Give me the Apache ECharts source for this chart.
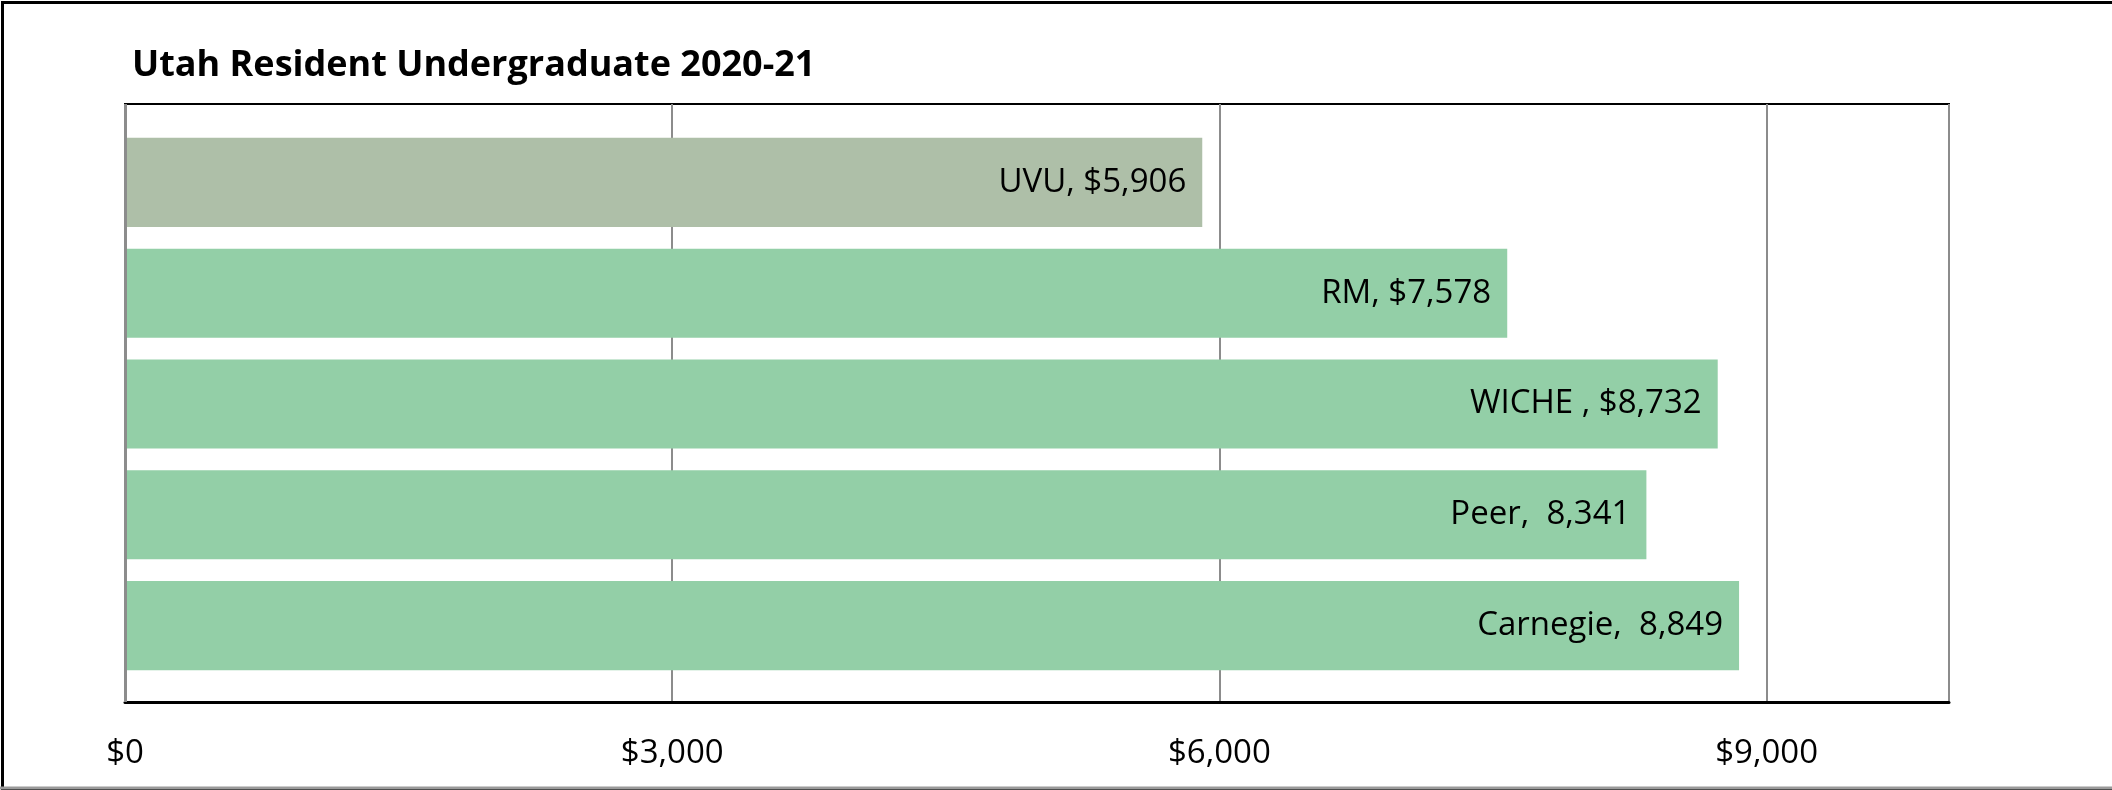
<!DOCTYPE html>
<html>
<head>
<meta charset="utf-8">
<script src="https://cdn.jsdelivr.net/npm/echarts@6/dist/echarts.min.js"></script>
<style>
  html, body { margin: 0; padding: 0; background: #fff; }
  #chart { width: 2112px; height: 790px; }
</style>
</head>
<body>
<div id="chart"></div>
<script>
// chart data
const categories = ["UVU", "RM", "WICHE", "Peer", "Carnegie"];
const values = [5906, 7578, 8732, 8341, 8849];
const barLabels = ["UVU, $5,906", "RM, $7,578", "WICHE , $8,732", "Peer,  8,341", "Carnegie,  8,849"];
const barColors = ["#AEBFA8", "#93CFA7", "#93CFA7", "#93CFA7", "#93CFA7"];
const xTicks = [0, 3000, 6000, 9000];

const fontFamily = "'Open Sans', Lato, sans-serif";

const chart = echarts.init(document.getElementById("chart"));

const option = {
  backgroundColor: "#fff",
  animation: false,
  title: {
    text: "Utah Resident Undergraduate 2020-21",
    left: 127,
    top: 43,
    textStyle: {
      color: "#000",
      fontFamily: fontFamily,
      fontWeight: "bold",
      fontSize: 36
    }
  },
  // grid 0 = plot frame with the value axis, grid 1 = where the bars sit
  grid: [
    {
      left: 125,
      right: 163,
      top: 104,
      bottom: 88,
      show: true,
      borderColor: "#000",
      borderWidth: 2
    },
    {
      left: 125,
      right: 163,
      top: 127,
      bottom: 109
    }
  ],
  xAxis: [
    {
      type: "value",
      gridIndex: 0,
      min: 0,
      max: 10000,
      interval: 3000,
      axisLine: { show: true, lineStyle: { color: "#000", width: 3 } },
      axisTick: { show: false },
      splitLine: { show: true, lineStyle: { color: "#8c8c8c", width: 2 } },
      axisLabel: {
        margin: 35,
        color: "#000",
        fontFamily: fontFamily,
        fontSize: 33,
        showMaxLabel: false,
        formatter: v => (xTicks.includes(v) ? "$" + v.toLocaleString("en-US") : "")
      }
    },
    {
      type: "value",
      gridIndex: 1,
      min: 0,
      max: 10000,
      show: false,
      splitLine: { show: false }
    }
  ],
  yAxis: [
    {
      type: "value",
      gridIndex: 0,
      show: false,
      splitLine: { show: false }
    },
    {
      type: "category",
      gridIndex: 1,
      inverse: true,
      data: categories,
      axisLine: { show: false },
      axisTick: { show: false },
      axisLabel: { show: false }
    }
  ],
  series: [
    {
      type: "bar",
      xAxisIndex: 1,
      yAxisIndex: 1,
      barCategoryGap: "19.6%",
      data: values.map((v, i) => ({ value: v, itemStyle: { color: barColors[i] } })),
      label: {
        show: true,
        position: "insideRight",
        distance: 16,
        color: "#000",
        fontFamily: fontFamily,
        fontSize: 33,
        formatter: p => barLabels[p.dataIndex]
      }
    }
  ],
  graphic: [
    {
      // left edge of the plot in grey, over the black frame
      type: "line",
      shape: { x1: 125.5, y1: 104, x2: 125.5, y2: 702 },
      style: { stroke: "#8c8c8c", lineWidth: 3 },
      z: 100,
      silent: true
    },
    {
      type: "rect",
      left: 0,
      top: 0,
      shape: { width: 2112, height: 788 },
      style: { fill: "none", stroke: "#000", lineWidth: 3 },
      silent: true
    },
    {
      type: "line",
      shape: { x1: 0, y1: 788, x2: 2112, y2: 788 },
      style: { stroke: "#9a9a9a", lineWidth: 3 },
      silent: true
    }
  ]
};

chart.setOption(option);
</script>
</body>
</html>
